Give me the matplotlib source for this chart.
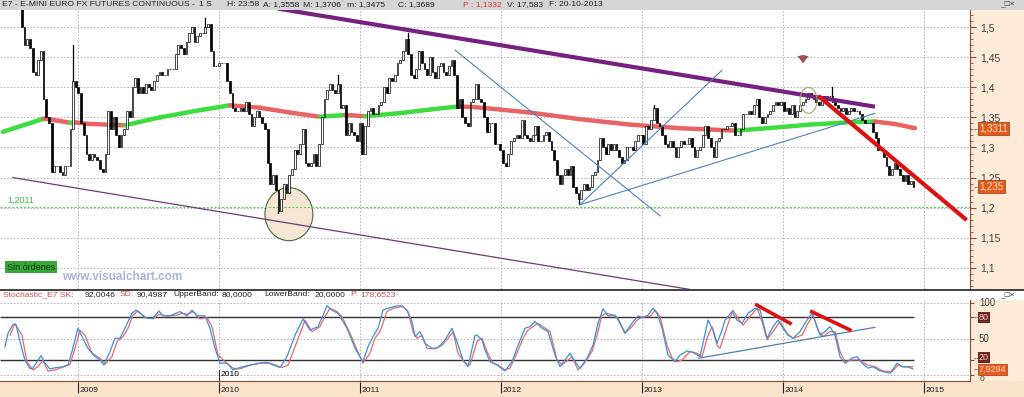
import matplotlib
matplotlib.use('Agg')
import matplotlib.pyplot as plt
from matplotlib import font_manager
from matplotlib.patches import Rectangle, Ellipse
from matplotlib.ticker import MultipleLocator, FuncFormatter
import numpy as np
import pandas as pd

W, H = 1024, 397

# ---------------- data ----------------
# weekly closes (Friday bars) of the E-mini Euro FX continuous contract
first_week = '2008-06-20'
close_2008 = [1.555, 1.575, 1.57, 1.595, 1.585, 1.57, 1.555, 1.50, 1.47, 1.48, 1.465, 1.425, 1.42, 1.445,
              1.46, 1.38, 1.35, 1.34, 1.26, 1.27, 1.27, 1.26, 1.255, 1.27, 1.27, 1.33, 1.41, 1.40]
close_2009 = [1.39, 1.34, 1.32, 1.29, 1.28, 1.29, 1.285, 1.28, 1.265, 1.26, 1.29, 1.36, 1.33, 1.35, 1.32,
              1.30, 1.32, 1.33, 1.36, 1.35, 1.40, 1.415, 1.39, 1.40, 1.39, 1.405, 1.40, 1.395, 1.41, 1.42,
              1.425, 1.42, 1.42, 1.43, 1.43, 1.43, 1.455, 1.47, 1.465, 1.455, 1.475, 1.49, 1.50, 1.475,
              1.485, 1.49, 1.49, 1.50, 1.505, 1.46, 1.435, 1.435]
close_2010 = [1.44, 1.44, 1.44, 1.41, 1.39, 1.365, 1.36, 1.36, 1.365, 1.36, 1.375, 1.355, 1.335, 1.35,
              1.36, 1.35, 1.34, 1.33, 1.275, 1.24, 1.255, 1.23, 1.195, 1.215, 1.24, 1.225, 1.255, 1.265,
              1.295, 1.29, 1.305, 1.33, 1.275, 1.27, 1.275, 1.29, 1.27, 1.305, 1.35, 1.38, 1.395, 1.405,
              1.395, 1.39, 1.405, 1.365, 1.37, 1.32, 1.34, 1.325, 1.32, 1.31, 1.34]
close_2011 = [1.29, 1.335, 1.36, 1.365, 1.355, 1.355, 1.37, 1.375, 1.40, 1.39, 1.415, 1.41, 1.42, 1.44,
              1.445, 1.46, 1.48, 1.455, 1.42, 1.415, 1.43, 1.46, 1.44, 1.43, 1.42, 1.45, 1.425, 1.415,
              1.435, 1.44, 1.425, 1.42, 1.435, 1.445, 1.42, 1.365, 1.38, 1.35, 1.34, 1.335, 1.375, 1.38,
              1.405, 1.38, 1.375, 1.35, 1.325, 1.34, 1.34, 1.305, 1.305, 1.295]
close_2012 = [1.275, 1.27, 1.29, 1.31, 1.315, 1.32, 1.315, 1.345, 1.32, 1.315, 1.31, 1.32, 1.335, 1.31,
              1.31, 1.32, 1.325, 1.31, 1.295, 1.28, 1.255, 1.24, 1.255, 1.265, 1.255, 1.27, 1.235, 1.225,
              1.215, 1.23, 1.24, 1.23, 1.235, 1.255, 1.26, 1.28, 1.315, 1.30, 1.29, 1.305, 1.295, 1.305,
              1.295, 1.285, 1.275, 1.28, 1.30, 1.30, 1.295, 1.31, 1.32, 1.32]
close_2013 = [1.305, 1.335, 1.33, 1.345, 1.365, 1.34, 1.335, 1.32, 1.305, 1.30, 1.31, 1.30, 1.285, 1.30,
              1.31, 1.305, 1.305, 1.315, 1.30, 1.285, 1.295, 1.30, 1.32, 1.335, 1.315, 1.30, 1.285, 1.31,
              1.315, 1.33, 1.33, 1.335, 1.335, 1.34, 1.32, 1.32, 1.33, 1.355, 1.355, 1.36, 1.355, 1.37,
              1.38, 1.35, 1.34, 1.35, 1.355, 1.36, 1.37, 1.375, 1.37, 1.375]
close_2014 = [1.36, 1.365, 1.355, 1.37, 1.35, 1.36, 1.37, 1.375, 1.38, 1.39, 1.385, 1.38, 1.375, 1.37,
              1.385, 1.38, 1.385, 1.385, 1.375, 1.37, 1.365, 1.36, 1.365, 1.355, 1.36, 1.365, 1.36, 1.36,
              1.355, 1.345, 1.34, 1.34, 1.34, 1.325, 1.315, 1.295, 1.295, 1.285, 1.27, 1.255, 1.265,
              1.275, 1.265, 1.255, 1.245, 1.255, 1.24, 1.245, 1.235]

# single bars with a visible wick beyond the body
wick_dates = ['2008-12-19', '2009-11-27', '2010-06-04', '2010-11-05', '2011-05-06',
              '2012-07-20', '2013-02-01', '2014-05-09']
wick_prices = [1.47, 1.515, 1.192, 1.42, 1.49, 1.206, 1.37, 1.40]

# long moving average (decimal years / price)
ma_years = [2008.468, 2008.759, 2008.872, 2008.943, 2008.986, 2009.085, 2009.333, 2009.582, 2009.865,
            2010.078, 2010.291, 2010.504, 2010.716, 2010.894, 2011.035, 2011.284, 2011.496, 2011.695,
            2011.816, 2011.993, 2012.206, 2012.560, 2012.915, 2013.270, 2013.660, 2013.837, 2014.191,
            2014.475, 2014.652, 2014.794, 2014.936]
ma_vals = [1.326, 1.348, 1.344, 1.341, 1.3415, 1.339, 1.337, 1.350, 1.362, 1.370, 1.366, 1.358, 1.351,
           1.354, 1.352, 1.357, 1.363, 1.368, 1.367, 1.363, 1.358, 1.347, 1.338, 1.332, 1.328, 1.331,
           1.338, 1.342, 1.343, 1.339, 1.332]

# stochastic %K
sk_years = [2008.482, 2008.504, 2008.539, 2008.560, 2008.589, 2008.624, 2008.660, 2008.681, 2008.738,
            2008.766, 2008.801, 2008.851, 2008.894, 2008.929, 2008.957,
            2009.000, 2009.035, 2009.071, 2009.121, 2009.156, 2009.184, 2009.227, 2009.262, 2009.298,
            2009.333, 2009.383, 2009.411, 2009.440, 2009.489, 2009.532, 2009.574, 2009.603, 2009.652,
            2009.695, 2009.723, 2009.773, 2009.809, 2009.844, 2009.901, 2009.936, 2009.972,
            2010.007, 2010.057, 2010.099, 2010.149, 2010.220, 2010.291, 2010.340, 2010.383, 2010.433,
            2010.482, 2010.539, 2010.596, 2010.645, 2010.702, 2010.738, 2010.766, 2010.801, 2010.844,
            2010.908, 2010.965,
            2011.021, 2011.057, 2011.092, 2011.128, 2011.163, 2011.213, 2011.262, 2011.298, 2011.333,
            2011.369, 2011.390, 2011.426, 2011.461, 2011.511, 2011.553, 2011.603, 2011.652, 2011.688,
            2011.730, 2011.766, 2011.816, 2011.830, 2011.865, 2011.887, 2011.922, 2011.972,
            2012.028, 2012.078, 2012.121, 2012.170, 2012.206, 2012.241, 2012.291, 2012.333, 2012.383,
            2012.418, 2012.489, 2012.525, 2012.560, 2012.610, 2012.652, 2012.688, 2012.723, 2012.759,
            2012.809, 2012.844, 2012.879, 2012.929, 2012.972,
            2013.007, 2013.043, 2013.078, 2013.106, 2013.142, 2013.184, 2013.234, 2013.270, 2013.319,
            2013.362, 2013.411, 2013.468, 2013.504, 2013.532, 2013.567, 2013.589, 2013.638, 2013.674,
            2013.709, 2013.752, 2013.801, 2013.837, 2013.887, 2013.929, 2013.965,
            2014.000, 2014.035, 2014.071, 2014.121, 2014.170, 2014.206, 2014.241, 2014.262, 2014.298,
            2014.333, 2014.369, 2014.404, 2014.440, 2014.489, 2014.525, 2014.560, 2014.603, 2014.638,
            2014.688, 2014.759, 2014.809, 2014.844, 2014.879, 2014.922]
sk_vals = [39, 57.7, 70, 70, 46, 20, 8, 9, 26.5, 16, 8, 10, 11, 14, 32,
           64.7, 50.7, 36.7, 25, 20.5, 13.5, 32, 50.7, 50.7, 64.7, 85.6, 90, 85.6, 78.6, 78.6, 88.8,
           82, 82, 85.6, 88, 82, 90, 82, 82, 64.7, 36.7,
           16, 16, 6.5, 10, 13.5, 16, 17, 13.5, 10, 25, 55, 77.7, 62, 67, 83, 96, 90, 85.6, 64.7, 36.7,
           18, 39, 53, 64.7, 90, 93.5, 96, 96, 90, 74, 53, 60, 43.7, 36.7, 37.7, 48.4, 64.7, 46, 20.5,
           11, 55, 55, 48.4, 34.4, 18, 13.5,
           5, 18, 41, 64.7, 67, 74, 64.7, 60, 27.4, 11, 29.8, 18, 8.8, 22.8, 41, 71.6, 91.6, 82, 83,
           71.6, 57.7, 71.6, 82,
           79.5, 83, 92.6, 85.6, 64.7, 27.4, 18, 27.4, 33, 31, 25, 76, 62, 43.7, 62, 76, 88, 76, 71.6,
           85.6, 92.6, 90, 50.7, 67, 76,
           64.7, 55, 50.7, 60, 76, 85.6, 67, 55, 60, 67, 55, 25, 16, 23, 25, 16, 9, 11, 5, 2, 16, 11,
           11, 8]

# stochastic %D
sd_years = [2008.518, 2008.553, 2008.603, 2008.638, 2008.681, 2008.716, 2008.752, 2008.787, 2008.837,
            2008.943, 2008.979,
            2009.014, 2009.050, 2009.099, 2009.156, 2009.191, 2009.241, 2009.277, 2009.319, 2009.355,
            2009.390, 2009.426, 2009.475, 2009.532, 2009.574, 2009.631, 2009.702, 2009.738, 2009.773,
            2009.816, 2009.865, 2009.915, 2009.950, 2009.993,
            2010.043, 2010.099, 2010.149, 2010.220, 2010.291, 2010.362, 2010.447, 2010.489, 2010.553,
            2010.610, 2010.660, 2010.716, 2010.752, 2010.787, 2010.837, 2010.872, 2010.929, 2010.979,
            2011.021, 2011.071, 2011.106, 2011.142, 2011.191, 2011.234, 2011.305, 2011.340, 2011.376,
            2011.404, 2011.440, 2011.475, 2011.532, 2011.582, 2011.624, 2011.660, 2011.695, 2011.745,
            2011.780, 2011.830, 2011.865, 2011.901, 2011.943, 2011.979,
            2012.028, 2012.064, 2012.113, 2012.156, 2012.191, 2012.227, 2012.262, 2012.312, 2012.348,
            2012.397, 2012.433, 2012.504, 2012.546, 2012.582, 2012.645, 2012.681, 2012.716, 2012.752,
            2012.794, 2012.830, 2012.879, 2012.929, 2012.965,
            2013.007, 2013.057, 2013.092, 2013.128, 2013.177, 2013.213, 2013.248, 2013.284, 2013.340,
            2013.390, 2013.426, 2013.461, 2013.496, 2013.532, 2013.553, 2013.603, 2013.645, 2013.681,
            2013.716, 2013.766, 2013.816, 2013.851, 2013.887, 2013.929, 2013.979,
            2014.028, 2014.071, 2014.135, 2014.177, 2014.213, 2014.248, 2014.284, 2014.333, 2014.369,
            2014.404, 2014.440, 2014.489, 2014.546, 2014.596, 2014.652, 2014.709, 2014.773, 2014.816,
            2014.851, 2014.922]
sd_vals = [55, 71, 55, 18, 6.5, 11, 20, 5, 6.5, 14, 37,
           62, 55, 30, 23, 14.4, 25, 46, 53, 64.7, 83, 89, 79.5, 77.7, 84, 82, 83, 85.6, 84, 88, 77.7,
           79.5, 67, 27.4,
           18, 9, 8, 13, 16, 16, 10, 13, 46, 76, 60, 67, 81, 92.6, 88, 81, 57.7, 34.4,
           16, 30, 50.7, 60, 88, 92.6, 95, 88, 60, 50.7, 55, 36.7, 36, 41, 50.7, 60, 30, 16, 13.5, 46,
           50.7, 32, 16, 13.5,
           6.5, 9, 30, 50.7, 62, 67, 71.6, 64.7, 60, 20.5, 13.5, 25, 6.5, 13.5, 32, 55, 83, 85.6, 83,
           78.6, 57.7, 67, 76,
           81, 81, 90, 81, 41, 23, 18, 20.5, 32, 30, 25, 50.7, 67, 41, 36.7, 67, 90, 78.6, 69, 81,
           92.6, 74, 48.4, 60, 74,
           57.7, 50.7, 55, 71.6, 83, 62, 53, 60, 60, 32, 18, 20.5, 20.5, 13.5, 11, 5, 4, 13.5, 11, 11]

years = [2009, 2010, 2011, 2012, 2013, 2014, 2015]
price_levels = [1.10, 1.15, 1.20, 1.25, 1.30, 1.35, 1.40, 1.45, 1.50]
support_level = 1.2011

# drawn trend lines (decimal year, price)
purple_top = ([2010.433, 2014.638], [1.530, 1.3683])
purple_low = ([2008.539, 2013.837], [1.250, 1.045])
blue_down = ([2011.674, 2013.128], [1.4617, 1.1867])
blue_steep = ([2012.560, 2013.567], [1.205, 1.4283])
blue_flat = ([2012.560, 2014.652], [1.205, 1.3567])
red_down = ([2014.262, 2015.291], [1.3833, 1.1817])
# lines on the oscillator
st_red1 = ([2013.814, 2014.050], [97, 71.6])
st_red2 = ([2014.204, 2014.475], [87.8, 62.3])
st_blue = ([2013.40, 2014.652], [22.8, 66])

# ---------------- styling ----------------
plt.rcParams['font.family'] = ['Liberation Sans', 'DejaVu Sans']
names = {f.name for f in font_manager.fontManager.ttflist}
if 'Liberation Sans Narrow' in names:
    small = dict(family=['Liberation Sans Narrow', 'DejaVu Sans'], fontsize=7)
else:
    small = dict(family=['Liberation Sans', 'DejaVu Sans'], fontsize=6.1)

PEACH = '#fdebd8'
STRIP = '#fbe3cb'
BROWN = '#8a4b2a'
GRID = '#a9a9a9'
X0, X1 = 2008.447, 2015.326


def box(x0, y0, x1, y1):
    return [x0 / W, 1 - y1 / H, (x1 - x0) / W, (y1 - y0) / H]


def fig_rect(x0, y0, x1, y1, color):
    fig.add_artist(Rectangle((x0 / W, 1 - y1 / H), (x1 - x0) / W, (y1 - y0) / H,
                             transform=fig.transFigure, facecolor=color, edgecolor='none', zorder=-5))


def fig_line(x0, y0, x1, y1, color, lw=1.0):
    fig.add_artist(plt.Line2D([x0 / W, x1 / W], [1 - y0 / H, 1 - y1 / H],
                              transform=fig.transFigure, color=color, lw=lw))


def fig_text(x, y, s, color='#202020', **kw):
    fig.text(x / W, 1 - y / H, s, color=color, va='center', ha='left', **kw)


fig = plt.figure(figsize=(W / 100, H / 100), dpi=100)
fig.patch.set_facecolor('white')

fig_rect(0, 0, W, 10, '#d5d5d5')
fig_rect(970, 10, W, 289, PEACH)
fig_rect(970, 300, W, 381, PEACH)
fig_rect(0, 381, W, H, STRIP)

# ---------------- price panel ----------------
ax = fig.add_axes(box(0, 10, 970, 289))
ax.set_xlim(X0, X1)
ax.set_ylim(1.065, 1.5283)
for s in ['top', 'left', 'bottom']:
    ax.spines[s].set_visible(False)
ax.spines['right'].set_color(BROWN)
ax.set_xticks([])
ax.yaxis.tick_right()
ax.yaxis.set_major_locator(MultipleLocator(0.05))
ax.yaxis.set_minor_locator(MultipleLocator(0.01))
ax.yaxis.set_major_formatter(FuncFormatter(lambda v, p: f'{v:.2f}'.rstrip('0').replace('.', ',')))
ax.tick_params(axis='y', which='major', length=4, color=BROWN, labelsize=7.5, labelcolor='#404040', pad=3)
ax.tick_params(axis='y', which='minor', length=2, color=BROWN)

for lv in price_levels:
    ax.axhline(lv, color=GRID, lw=0.6, ls=(0, (2, 2)), zorder=1)
for yr in years:
    ax.axvline(yr, color=GRID, lw=0.6, ls=(0, (2, 2)), zorder=1)

ax.add_patch(Ellipse((2010.496, 1.1892), 0.34, 0.088, facecolor='#f7e5d3', edgecolor='#3d6b3d',
                     lw=0.8, zorder=1.5))
ax.axhline(support_level, color='#5ccf5c', lw=0.8, ls=(0, (2, 1.5)), zorder=2)
ax.text(2008.50, support_level + 0.011, '1,2011', color='#3dbb3d', fontsize=6.5, va='center')

# candles
closes = np.array(close_2008 + close_2009 + close_2010 + close_2011 + close_2012 + close_2013 + close_2014)
dates = pd.date_range(first_week, periods=len(closes), freq='7D')
t = (dates.year + (dates.dayofyear - 1) / 365.25).to_numpy()
opens = np.r_[closes[0], closes[:-1]]
up = closes >= opens
ax.bar(t[up], (closes - opens)[up], bottom=opens[up], width=0.0125, color='white',
       edgecolor='black', lw=0.5, zorder=3)
ax.bar(t[~up], (opens - closes)[~up], bottom=closes[~up], width=0.0125, color='black',
       edgecolor='black', lw=0.5, zorder=3)
for d, p in zip(wick_dates, wick_prices):
    i = dates.get_loc(pd.Timestamp(d))
    ref = max(opens[i], closes[i]) if p > closes[i] else min(opens[i], closes[i])
    ax.plot([t[i], t[i]], [ref, p], color='black', lw=0.9, zorder=3)

# moving average, green while rising, red while falling
for i in range(len(ma_vals) - 1):
    c = '#3fdc3f' if ma_vals[i + 1] >= ma_vals[i] else '#e86464'
    ax.plot(ma_years[i:i + 2], ma_vals[i:i + 2], color=c, lw=3.2, solid_capstyle='round', zorder=2.5)

ax.plot(*purple_top, color='#76207f', lw=3.0, zorder=4)
ax.plot(*purple_low, color='#6a3a80', lw=0.9, zorder=4)
for ln in (blue_down, blue_steep, blue_flat):
    ax.plot(*ln, color='#4d80c0', lw=0.8, zorder=4)
ax.plot(*red_down, color='#dd1111', lw=3.0, zorder=4.5)
ax.add_patch(Ellipse((2014.181, 1.3783), 0.12, 0.043, facecolor='none', edgecolor='#9fa86c',
                     lw=0.8, zorder=4.6))
ax.annotate('', xy=(2014.142, 1.435), xytext=(2014.142, 1.458),
            arrowprops=dict(arrowstyle='simple,head_width=0.9,head_length=0.6,tail_width=0.4',
                            fc='#9c5650', ec='none', mutation_scale=9))

ytr = ax.get_yaxis_transform()
for val, lab in [(1.3311, '1,3311'), (1.235, '1,235')]:
    ax.text(1 + 3 / 970, val, '←', transform=ytr, fontsize=5, color=BROWN, va='center', clip_on=False)
    ax.text(1 + 9 / 970, val, lab, transform=ytr, fontsize=7, color='#ffe3cc', va='center',
            clip_on=False, bbox=dict(boxstyle='square,pad=0.15', fc='#e35a1c', ec='#9a3812', lw=0.5))

# ---------------- stochastic panel ----------------
st = fig.add_axes(box(0, 300, 970, 381))
st.set_xlim(X0, X1)
st.set_ylim(-8.9, 104.1)
for s in ['top', 'left']:
    st.spines[s].set_visible(False)
st.spines['right'].set_color(BROWN)
st.spines['bottom'].set_color(BROWN)
st.set_xticks([])
st.yaxis.tick_right()
st.set_yticks([0, 20, 50, 80, 100])
st.set_yticklabels([])
st.tick_params(axis='y', length=3, color=BROWN)
for lv in (0, 50, 100):
    st.axhline(lv, color=GRID, lw=0.6, ls=(0, (2, 2)), zorder=1)
for yr in years:
    st.axvline(yr, color=GRID, lw=0.6, ls=(0, (2, 2)), zorder=1)
st.hlines([80, 20], X0, 2014.93, color='#303030', lw=1.0, zorder=2)
st.plot(sd_years, sd_vals, color='#e36a6a', lw=0.9, zorder=3)
st.plot(sk_years, sk_vals, color='#3f8fd8', lw=0.9, zorder=3.5)
st.plot(*st_blue, color='#4d7fb8', lw=0.9, zorder=4)
st.plot(*st_red1, color='#dd1111', lw=2.6, zorder=4)
st.plot(*st_red2, color='#dd1111', lw=2.6, zorder=4)
st.plot([2010.0, 2010.0], [-8.9, 6], color='#303030', lw=0.7, zorder=4)
st.text(2010.012, -0.5, '2010', va='center', zorder=4, **small)

str_ = st.get_yaxis_transform()
st.text(1 + 9 / 970, 100, '100', transform=str_, fontsize=7, color='#404040', va='center', clip_on=False)
st.text(1 + 9 / 970, 50, '50', transform=str_, fontsize=7, color='#404040', va='center', clip_on=False)
st.text(1 + 10 / 970, -6.5, '0', transform=str_, fontsize=6, color='#404040', va='center', clip_on=False)
for val, lab in [(80, '80'), (23.5, '20')]:
    st.text(1 + 3 / 970, val, '←', transform=str_, fontsize=5, color=BROWN, va='center', clip_on=False)
    st.text(1 + 9 / 970, val, lab, transform=str_, fontsize=6.5, color='#f2d4c4', va='center',
            clip_on=False, bbox=dict(boxstyle='square,pad=0.1', fc='#6e2520', ec='none'))
st.text(1 + 3 / 970, 7.5, '←', transform=str_, fontsize=5, color=BROWN, va='center', clip_on=False)
st.text(1 + 9 / 970, 7.5, '7,9294', transform=str_, fontsize=6.5, color='#ffdcc0', va='center',
        clip_on=False, zorder=6, bbox=dict(boxstyle='square,pad=0.1', fc='#ea5a1e', ec='#9a3812', lw=0.5))

# ---------------- time strip ----------------
ax_x = fig.add_axes(box(0, 381, 970, 397))
ax_x.set_xlim(X0, X1)
ax_x.set_ylim(0, 1)
ax_x.axis('off')
ax_x.vlines(years, 0.25, 0.94, color='#202020', lw=0.8)
for yr in years:
    ax_x.annotate(str(yr), (yr, 0.42), xytext=(1.2, 0), textcoords='offset points',
                  va='center', ha='left', color='#202020', **small)

# ---------------- header texts ----------------
fig_line(0, 289.5, W, 289.5, '#202020', 1.2)
title_parts = [('E7 - E-MINI EURO FX FUTURES CONTINUOUS -', 2, '#202020'), ('1 S', 199, '#202020'),
               ('H: 23:58', 227, '#202020'), ('A: 1,3558', 263, '#202020'), ('M: 1,3706', 303, '#202020'),
               ('m: 1,3475', 347, '#202020'), ('C: 1,3689', 398, '#202020'),
               ('P : 1,1332', 463, '#d83a3a'), ('V: 17,583', 507, '#202020'),
               ('F: 20-10-2013', 549, '#202020')]
for s, x, c in title_parts:
    fig_text(x, 5, s, c, **small)
stoch_parts = [('Stochastic_E7 SK:', 3, '#d24a4a'), ('92,0046', 85, '#202020'), ('SD:', 120, '#d24a4a'),
               ('90,4987', 137, '#202020'), ('UpperBand:', 173, '#202020'), ('80,0000', 222, '#202020'),
               ('LowerBand:', 264, '#202020'), ('20,0000', 315, '#202020'), ('P:', 350, '#d24a4a'),
               ('178,6523', 360, '#d24a4a')]
for s, x, c in stoch_parts:
    fig_text(x, 295, s, c, **small)
fig_text(1000, 5, '_□×', '#303030', fontsize=6)
fig_text(1000, 296, '_□×', '#303030', fontsize=6)

fig_text(7, 267, 'Sin órdenes', '#163616', fontsize=6.5,
         bbox=dict(boxstyle='square,pad=0.2', fc='#35a835', ec='none'))
fig.text(122 / W, 1 - 277 / H, 'www.visualchart.com', ha='center', va='center', fontsize=8.5,
         fontweight='bold', color='#aab4d8')

fig.savefig('out.png', dpi=100)
